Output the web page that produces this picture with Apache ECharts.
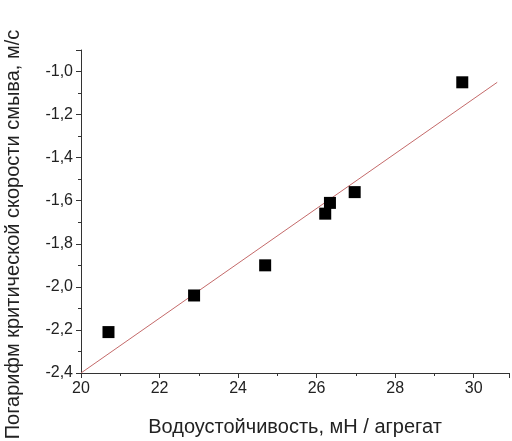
<!DOCTYPE html>
<html>
<head>
<meta charset="utf-8">
<script src="https://cdn.jsdelivr.net/npm/echarts@6/dist/echarts.min.js"></script>
<style>
    html, body { margin: 0; padding: 0; background: #fff; }
    #chart { width: 512px; height: 441px; }
</style>
</head>
<body>
<div id="chart"></div>
<script>
// measured points
var waterStab = [20.70, 22.88, 24.69, 26.22, 26.34, 26.97, 29.71];
var logSpeed = [-2.21, -2.04, -1.90, -1.66, -1.61, -1.56, -1.05];
// linear fit ends
var fitX = [20, 30.6];
var fitY = [-2.40, -1.05];

var myChart = echarts.init(document.getElementById('chart'));

function zip(a, b) {
    var out = [];
    for (var i = 0; i < a.length; i++) {
        out.push([a[i], b[i]]);
    }
    return out;
}

function makeAxis(extra, formatter) {
    var axis = {
        type: 'value',
        nameLocation: 'middle',
        nameTextStyle: { color: '#222', fontSize: 20, fontFamily: 'Liberation Sans, Arial' },
        axisLine: { lineStyle: { color: '#333', width: 1 } },
        axisTick: { show: true, length: 5, lineStyle: { color: '#333' } },
        minorTick: { show: true, splitNumber: 2, length: 3, lineStyle: { color: '#333' } },
        splitLine: { show: false },
        axisLabel: {
            color: '#222',
            fontSize: 16,
            fontFamily: 'Liberation Sans, Arial',
            showMaxLabel: false,
            formatter: formatter
        }
    };
    for (var k in extra) {
        axis[k] = extra[k];
    }
    return axis;
}

var option = {
    animation: false,
    grid: {
        left: 81,
        right: 3,
        top: 50,
        bottom: 68,
        outerBoundsMode: 'none'
    },
    xAxis: makeAxis({
        min: 20,
        max: 30.9,
        interval: 2,
        name: 'Водоустойчивость, мН / агрегат',
        nameGap: 44
    }, function (v) {
        return String(v);
    }),
    yAxis: makeAxis({
        min: -2.4,
        max: -0.9,
        interval: 0.2,
        name: 'Погарифм критической скорости смыва, м/с',
        nameGap: 58
    }, function (v) {
        return v.toFixed(1).replace('.', ',');
    }),
    series: [
        {
            type: 'line',
            data: zip(fitX, fitY),
            symbol: 'none',
            lineStyle: { color: '#c46a6a', width: 1 },
            z: 1
        },
        {
            type: 'scatter',
            data: zip(waterStab, logSpeed),
            symbol: 'rect',
            symbolSize: 12,
            itemStyle: { color: '#000', opacity: 1 },
            z: 2
        }
    ]
};

option.yAxis.nameTextStyle.padding = [0, 46, 0, 0];

myChart.setOption(option);
</script>
</body>
</html>
